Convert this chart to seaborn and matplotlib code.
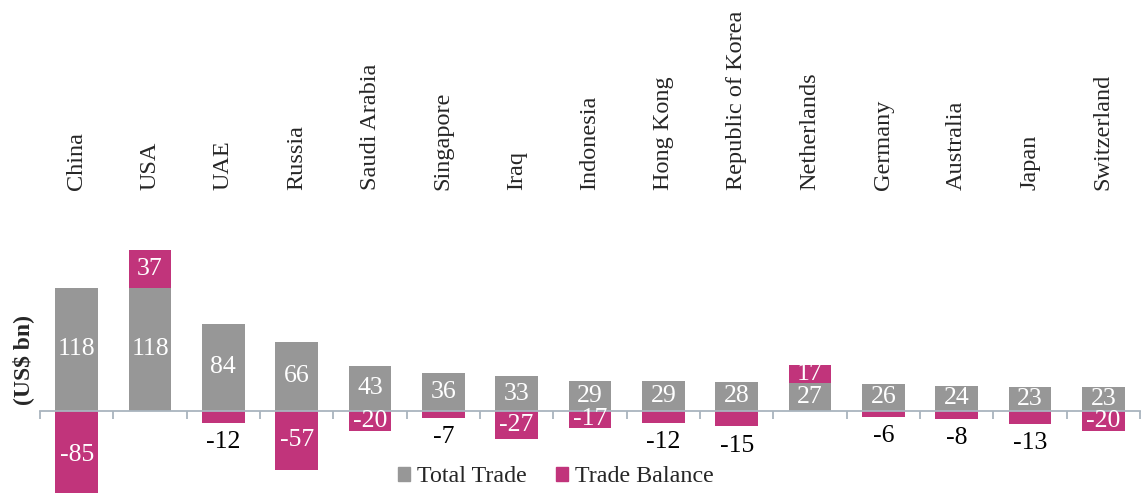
import matplotlib
matplotlib.use("Agg")
import matplotlib.pyplot as plt
import seaborn as sns
import pandas as pd
import numpy as np
from matplotlib.patches import Patch
import matplotlib.transforms as mtransforms

countries = ["China", "USA", "UAE", "Russia", "Saudi Arabia", "Singapore", "Iraq",
             "Indonesia", "Hong Kong", "Republic of Korea", "Netherlands", "Germany",
             "Australia", "Japan", "Switzerland"]
total_trade = [118, 118, 84, 66, 43, 36, 33, 29, 29, 28, 27, 26, 24, 23, 23]
trade_balance = [-85, 37, -12, -57, -20, -7, -27, -17, -12, -15, 17, -6, -8, -13, -20]

GRAY = "#979797"
MAGENTA = "#C1347B"
AXIS = "#A9B4BE"

sns.set_style("white")
plt.rcParams["font.family"] = ["Liberation Serif", "DejaVu Serif"]

df = pd.DataFrame({"country": countries, "total": total_trade, "balance": trade_balance})
df["bottom"] = np.where(df["balance"] > 0, df["total"], 0)

fig = plt.figure(figsize=(11.44, 4.93), dpi=100)
ax = fig.add_axes([40 / 1144, 0, 1100 / 1144, 1])

W = 0.585
sns.barplot(data=df, x="country", y="total", color=GRAY, width=W, saturation=1,
            linewidth=0, ax=ax)
sns.barplot(data=df, x="country", y="balance", color=MAGENTA, width=W, saturation=1,
            linewidth=0, bottom=df["bottom"].values, ax=ax)

ax.set_xlim(-0.5, len(countries) - 0.5)
ax.set_ylim(-79.4, 396)

# value labels
for i, (t, b) in enumerate(zip(total_trade, trade_balance)):
    ax.text(i, t / 2, str(t), ha="center", va="center", color="white", fontsize=18.5)
    if b > 0:
        ax.text(i, t + b / 2, str(b), ha="center", va="center", color="white", fontsize=18.5)
    elif abs(b) >= 17:
        ax.text(i, b / 2, str(b), ha="center", va="center", color="white", fontsize=18.5)
    else:
        ax.annotate(str(b), (i, b), xytext=(0, -6), textcoords="offset points",
                    ha="center", va="top", color="black", fontsize=18.5)

# category labels at top
trans = mtransforms.blended_transform_factory(ax.transData, ax.transAxes)
for i, c in enumerate(countries):
    ax.text(i, 0.6146, c, rotation=90, ha="center", va="bottom", fontsize=17.5,
            transform=trans)

# axis styling
for s in ["left", "right", "top"]:
    ax.spines[s].set_visible(False)
ax.spines["bottom"].set_position(("data", 0))
ax.spines["bottom"].set_color(AXIS)
ax.spines["bottom"].set_linewidth(1.3)
ax.set_xticks(np.arange(-0.5, len(countries), 1.0))
ax.set_xticklabels([])
ax.tick_params(axis="x", direction="out", length=6, width=1.3, color=AXIS, bottom=True)
ax.set_yticks([])
ax.set_xlabel("")
ax.set_ylabel("")

fig.text(23 / 1144, 1 - 360 / 493, "(US$ bn)", rotation=90, ha="center", va="center",
         fontsize=17, fontweight="bold")

handles = [Patch(color=GRAY, label="Total Trade"), Patch(color=MAGENTA, label="Trade Balance")]
fig.legend(handles=handles, loc="center", bbox_to_anchor=(556 / 1144, 16 / 493), ncol=2,
           frameon=False, fontsize=17.3, handlelength=0.5, handleheight=0.5,
           handletextpad=0.3, columnspacing=1.2)

fig.savefig("out.png", dpi=100)
